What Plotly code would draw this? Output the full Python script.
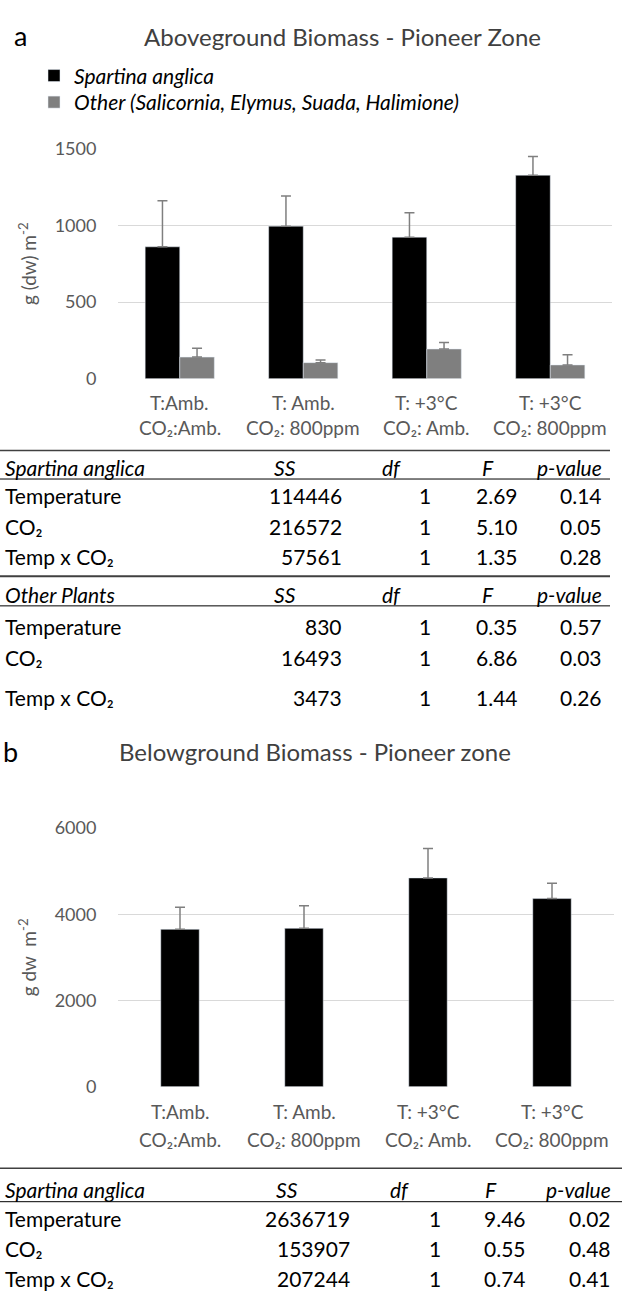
import plotly.graph_objects as go

W, H = 628, 1311
def X(px): return px / W
def Y(px): return 1 - px / H

FONT = "Lato"
GRAY = "#595959"
TITLE = "#404040"

# ---- data ----
cat_line1 = ["T:Amb.", "T: Amb.", "T: +3°C", "T: +3°C"]
cat_line2 = ["CO₂:Amb.", "CO₂: 800ppm", "CO₂: Amb.", "CO₂: 800ppm"]
categories = [a + " | " + b for a, b in zip(cat_line1, cat_line2)]

spartina_above = [860, 995, 923, 1327]
spartina_above_err = [300, 197, 160, 122]
other_above = [141, 105, 194, 90]
other_above_err = [58, 17, 43, 66]

spartina_below = [3650, 3673, 4843, 4364]
spartina_below_err = [510, 525, 685, 358]

above_ticks = [0, 500, 1000, 1500]
below_ticks = [0, 2000, 4000, 6000]

effects = ["Temperature", "CO₂", "Temp x CO₂"]
a_sp_SS = ["114446", "216572", "57561"]
a_sp_df = ["1", "1", "1"]
a_sp_F = ["2.69", "5.10", "1.35"]
a_sp_p = ["0.14", "0.05", "0.28"]

a_ot_SS = ["830", "16493", "3473"]
a_ot_df = ["1", "1", "1"]
a_ot_F = ["0.35", "6.86", "1.44"]
a_ot_p = ["0.57", "0.03", "0.26"]

b_sp_SS = ["2636719", "153907", "207244"]
b_sp_df = ["1", "1", "1"]
b_sp_F = ["9.46", "0.55", "0.74"]
b_sp_p = ["0.02", "0.48", "0.41"]

fig = go.Figure()

err_style = dict(type="data", symmetric=False, color="#7f7f7f", thickness=1.5, width=5)

fig.add_trace(go.Bar(
    x=categories, y=spartina_above, name="<i>Spartina anglica</i>",
    marker=dict(color="black"), legend="legend",
    error_y=dict(array=spartina_above_err, arrayminus=[0] * 4, **err_style),
    xaxis="x", yaxis="y"))
fig.add_trace(go.Bar(
    x=categories, y=other_above, name="<i>Other (Salicornia, Elymus, Suada, Halimione)</i>",
    marker=dict(color="#7f7f7f"), legend="legend2",
    error_y=dict(array=other_above_err, arrayminus=[0] * 4, **err_style),
    xaxis="x", yaxis="y"))
fig.add_trace(go.Bar(
    x=categories, y=spartina_below, showlegend=False, width=0.31,
    marker=dict(color="black"),
    error_y=dict(array=spartina_below_err, arrayminus=[0] * 4, **err_style),
    xaxis="x2", yaxis="y2"))

axis_common = dict(showgrid=True, gridcolor="#d9d9d9", gridwidth=1, zeroline=False,
                   showline=False, ticks="outside", ticklen=17, tickcolor="rgba(0,0,0,0)",
                   tickfont=dict(family=FONT, size=18, color=GRAY), fixedrange=True)

legend_common = dict(xanchor="left", yanchor="middle",
                     font=dict(family=FONT, size=21, color="black"),
                     bgcolor="rgba(0,0,0,0)")

fig.update_layout(
    width=W, height=H,
    margin=dict(l=0, r=0, t=0, b=0),
    paper_bgcolor="white", plot_bgcolor="white",
    barmode="group", bargap=0.44, bargroupgap=0,
    font=dict(family=FONT, color="black"),
    xaxis=dict(domain=[X(118), X(612)], anchor="y", type="category",
               showticklabels=False, showgrid=False, zeroline=False, ticks=""),
    yaxis=dict(domain=[Y(373), Y(139)], anchor="x", range=[0, 1500],
               tickvals=above_ticks, autorange=False,
               title=dict(text="g (dw) m<sup>-2</sup>", standoff=12,
                          font=dict(family=FONT, size=19, color=GRAY)),
               **axis_common),
    xaxis2=dict(domain=[X(118), X(614)], anchor="y2", type="category",
                showticklabels=False, showgrid=False, zeroline=False, ticks=""),
    yaxis2=dict(domain=[Y(1093), Y(830)], anchor="x2", range=[0, 6000],
                tickvals=below_ticks, autorange=False,
                title=dict(text="g dw  m<sup>-2</sup>", standoff=12,
                           font=dict(family=FONT, size=19, color=GRAY)),
                **axis_common),
    legend=dict(x=X(34), y=Y(65), **legend_common),
    legend2=dict(x=X(34), y=Y(92), **legend_common),
)

ann = []
shapes = []

def text(x, y, s, size=21, anchor="left", color="black", xref="paper"):
    ann.append(dict(x=x, y=Y(y), xref=xref, yref="paper", text=s, showarrow=False,
                    xanchor=anchor, yanchor="middle",
                    font=dict(family=FONT, size=size, color=color)))

def hline(y, x0, x1, width=1, color="black"):
    shapes.append(dict(type="line", xref="paper", yref="paper",
                       x0=X(x0), x1=X(x1), y0=Y(y), y1=Y(y),
                       line=dict(color=color, width=width)))

# panel letters & titles
text(X(12), 24, "a", size=27)
text(X(342), 25, "Aboveground Biomass - Pioneer Zone", size=24, anchor="center", color=TITLE)
text(X(1), 752, "b", size=27)
text(X(315), 752, "Belowground Biomass - Pioneer zone", size=24, anchor="center", color=TITLE)

# category labels (two lines), positioned by the category scale
for c, l1, l2 in zip(categories, cat_line1, cat_line2):
    for xr, y1, y2 in (("x", 397, 423), ("x2", 1118, 1147)):
        ann.append(dict(x=c, y=Y(y1), xref=xr, yref="paper", text=l1, showarrow=False,
                        xanchor="center", yanchor="middle",
                        font=dict(family=FONT, size=19, color=GRAY)))
        ann.append(dict(x=c, y=Y(y2), xref=xr, yref="paper", text=l2, showarrow=False,
                        xanchor="center", yanchor="middle",
                        font=dict(family=FONT, size=19, color=GRAY)))

def table(header, y_head, y_rows, SS, df, F, p, cols, hcols):
    ss_x, df_x, f_x, p_x = cols
    hss, hdf, hf = hcols
    text(X(3), y_head, "<i>" + header + "</i>")
    text(X(hss), y_head, "<i>SS</i>")
    text(X(hdf), y_head, "<i>df</i>")
    text(X(hf), y_head, "<i>F</i>")
    text(X(p_x), y_head, "<i>p-value</i>", anchor="right")
    for i, yy in enumerate(y_rows):
        text(X(3), yy, effects[i])
        text(X(ss_x), yy, SS[i], anchor="right")
        text(X(df_x), yy, df[i], anchor="right")
        text(X(f_x), yy, F[i], anchor="right")
        text(X(p_x), yy, p[i], anchor="right")

table("Spartina anglica", 463, [492, 523, 554], a_sp_SS, a_sp_df, a_sp_F, a_sp_p,
      (344, 433, 520, 604), (272, 380, 480))
table("Other Plants", 592, [625, 657, 697], a_ot_SS, a_ot_df, a_ot_F, a_ot_p,
      (344, 433, 520, 604), (272, 380, 480))
table("Spartina anglica", 1198, [1227, 1258, 1288], b_sp_SS, b_sp_df, b_sp_F, b_sp_p,
      (352, 443, 528, 613), (274, 388, 483))

hline(446, 0, 610, width=1.5, color="#404040")
hline(475, 0, 610, width=1)
hline(574, 0, 610, width=2, color="#404040")
hline(604, 0, 610, width=1)
hline(1176, 0, 622, width=1.5, color="#404040")
hline(1210, 0, 622, width=1)

fig.update_layout(annotations=ann, shapes=shapes)
fig.write_html("out.html")
